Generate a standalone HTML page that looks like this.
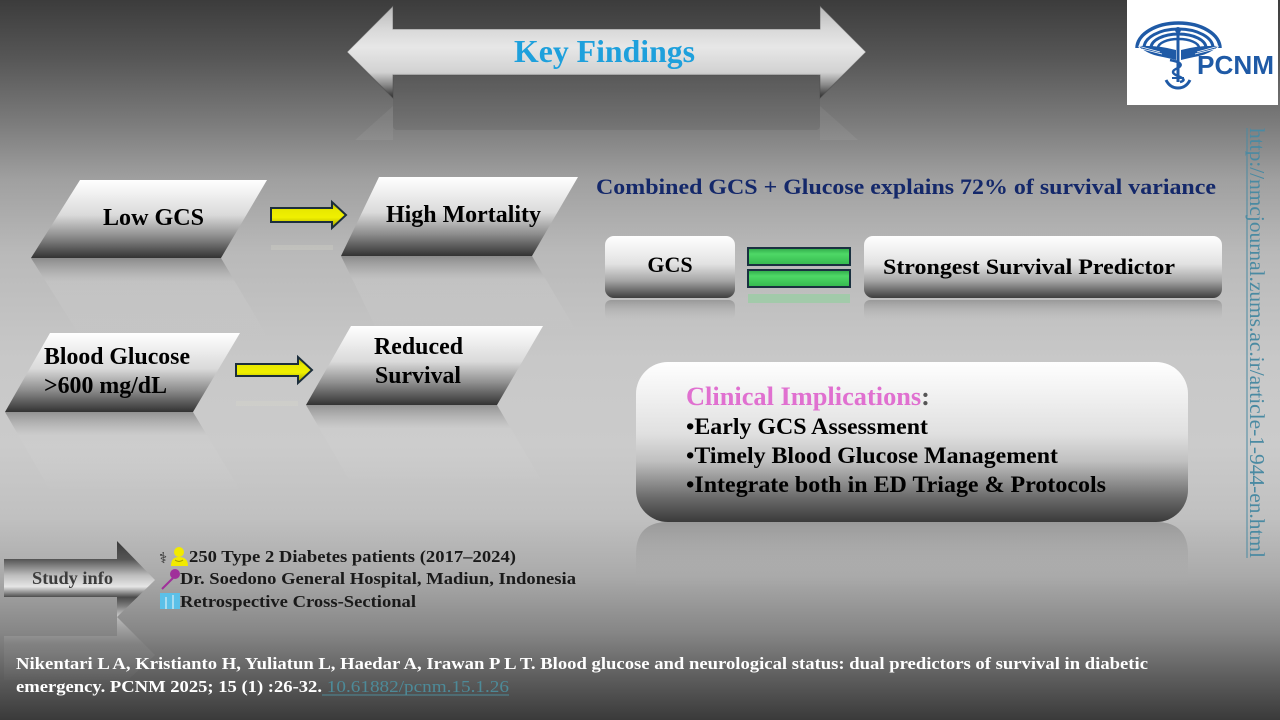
<!DOCTYPE html>
<html>
<head>
<meta charset="utf-8">
<style>
html,body{margin:0;padding:0;width:1280px;height:720px;overflow:hidden;background:#888;}
svg{display:block;}
text{font-family:"Liberation Serif","DejaVu Serif",serif;}
</style>
</head>
<body>
<svg width="1280" height="720" viewBox="0 0 1280 720" xmlns="http://www.w3.org/2000/svg">
<defs>
  <linearGradient id="bg" x1="0" y1="0" x2="0" y2="720" gradientUnits="userSpaceOnUse">
    <stop offset="0" stop-color="#3c3c3c"/>
    <stop offset="0.08" stop-color="#565656"/>
    <stop offset="0.17" stop-color="#7b7b7b"/>
    <stop offset="0.25" stop-color="#a0a0a0"/>
    <stop offset="0.35" stop-color="#b9b9b9"/>
    <stop offset="0.5" stop-color="#c8c8c8"/>
    <stop offset="0.62" stop-color="#cbcbcb"/>
    <stop offset="0.72" stop-color="#c0c0c0"/>
    <stop offset="0.8" stop-color="#aaaaaa"/>
    <stop offset="0.88" stop-color="#858585"/>
    <stop offset="0.94" stop-color="#5e5e5e"/>
    <stop offset="1" stop-color="#3a3a3a"/>
  </linearGradient>
  <linearGradient id="kf" x1="0" y1="6" x2="0" y2="98" gradientUnits="userSpaceOnUse">
    <stop offset="0" stop-color="#b8b8b8"/>
    <stop offset="0.25" stop-color="#d8d8d8"/>
    <stop offset="0.45" stop-color="#e7e7e7"/>
    <stop offset="0.72" stop-color="#d2d2d2"/>
    <stop offset="0.86" stop-color="#888"/>
    <stop offset="1" stop-color="#2a2a2a"/>
  </linearGradient>
  <linearGradient id="para" x1="0" y1="0" x2="0" y2="1">
    <stop offset="0" stop-color="#ffffff"/>
    <stop offset="0.45" stop-color="#dadada"/>
    <stop offset="0.72" stop-color="#8e8e8e"/>
    <stop offset="1" stop-color="#333333"/>
  </linearGradient>
  <linearGradient id="refl" x1="0" y1="0" x2="0" y2="1">
    <stop offset="0" stop-color="#505050" stop-opacity="0.45"/>
    <stop offset="0.3" stop-color="#cfcfcf" stop-opacity="0.3"/>
    <stop offset="1" stop-color="#e0e0e0" stop-opacity="0"/>
  </linearGradient>
  <linearGradient id="yel" x1="0" y1="0" x2="0" y2="1">
    <stop offset="0" stop-color="#a8a800"/>
    <stop offset="0.3" stop-color="#e8e800"/>
    <stop offset="0.6" stop-color="#f0f000"/>
    <stop offset="1" stop-color="#9a9a00"/>
  </linearGradient>
  <linearGradient id="grn" x1="0" y1="0" x2="0" y2="1">
    <stop offset="0" stop-color="#2ea848"/>
    <stop offset="0.35" stop-color="#4ed866"/>
    <stop offset="1" stop-color="#34b84e"/>
  </linearGradient>
  <linearGradient id="box" x1="0" y1="0" x2="0" y2="1">
    <stop offset="0" stop-color="#ffffff"/>
    <stop offset="0.45" stop-color="#e2e2e2"/>
    <stop offset="0.72" stop-color="#a6a6a6"/>
    <stop offset="1" stop-color="#3e3e3e"/>
  </linearGradient>
  <linearGradient id="cbox" x1="0" y1="0" x2="0" y2="1">
    <stop offset="0" stop-color="#ffffff"/>
    <stop offset="0.45" stop-color="#e0e0e0"/>
    <stop offset="0.62" stop-color="#c0c0c0"/>
    <stop offset="0.85" stop-color="#6a6a6a"/>
    <stop offset="1" stop-color="#3a3a3a"/>
  </linearGradient>
  <linearGradient id="boxrefl" x1="0" y1="0" x2="0" y2="1">
    <stop offset="0" stop-color="#7a7a7a" stop-opacity="0.55"/>
    <stop offset="1" stop-color="#b0b0b0" stop-opacity="0"/>
  </linearGradient>
  <linearGradient id="si" x1="0" y1="541" x2="0" y2="617" gradientUnits="userSpaceOnUse">
    <stop offset="0" stop-color="#3a3a3a"/>
    <stop offset="0.24" stop-color="#555555"/>
    <stop offset="0.45" stop-color="#bdbdbd"/>
    <stop offset="0.6" stop-color="#e6e6e6"/>
    <stop offset="0.74" stop-color="#4a4a4a"/>
    <stop offset="0.85" stop-color="#7a7a7a"/>
    <stop offset="1" stop-color="#d0d0d0"/>
  </linearGradient>
  <linearGradient id="sirefl" x1="0" y1="617" x2="0" y2="685" gradientUnits="userSpaceOnUse">
    <stop offset="0" stop-color="#d8d8d8" stop-opacity="0.6"/>
    <stop offset="0.4" stop-color="#8a8a8a" stop-opacity="0.4"/>
    <stop offset="1" stop-color="#8a8a8a" stop-opacity="0"/>
  </linearGradient>
</defs>

<!-- background -->
<rect x="0" y="0" width="1280" height="720" fill="url(#bg)"/>

<!-- Key findings arrow shadow/reflection -->
<rect x="393" y="75" width="427" height="55" rx="4" fill="#000" opacity="0.08"/>
<polygon points="355,140 393,106 393,140" fill="#fff" opacity="0.06"/>
<polygon points="858,140 820,106 820,140" fill="#fff" opacity="0.06"/>
<!-- Key findings arrow -->
<path d="M347,52 L393,6 L393,29 L820,29 L820,6 L866,52 L820,98 L820,75 L393,75 L393,98 Z" fill="url(#kf)" stroke="#4a4a4a" stroke-opacity="0.5" stroke-width="1"/>
<text x="514" y="62" font-size="32" font-weight="bold" fill="#1ea0dc" textLength="181" lengthAdjust="spacingAndGlyphs">Key Findings</text>

<!-- logo -->
<rect x="1127" y="0" width="151" height="105" fill="#ffffff"/>
<g fill="none" stroke="#1f5aa6">
  <path d="M1137,48 A41.5,25 0 0 1 1220,48" stroke-width="3.5"/>
  <path d="M1144,48 A34.5,19 0 0 1 1213,48" stroke-width="3"/>
  <path d="M1151,48 A27.5,14 0 0 1 1206,48" stroke-width="3"/>
  <path d="M1158,48 A20.5,9 0 0 1 1199,48" stroke-width="2.5"/>
</g>
<g fill="#1f5aa6">
  <path d="M1176,50 Q1158,45 1138,46 Q1148,54 1158,56 Q1168,58 1176,60 Z"/>
  <path d="M1181,50 Q1199,45 1219,46 Q1209,54 1199,56 Q1189,58 1181,60 Z"/>
  <rect x="1176.5" y="30" width="3" height="52"/>
  <circle cx="1178" cy="30" r="3"/>
</g>
<path d="M1170,60 Q1186,63 1178,68 Q1168,72 1178,76 Q1188,80 1180,82" fill="none" stroke="#1f5aa6" stroke-width="2.5"/>
<path d="M1166,80 Q1170,88 1178,88 Q1186,88 1190,80" fill="none" stroke="#1f5aa6" stroke-width="3"/>
<line x1="1172" y1="78" x2="1184" y2="78" stroke="#1f5aa6" stroke-width="2"/>
<path d="M1138,46 L1160,52 M1142,49 L1162,54 M1219,46 L1197,52 M1215,49 L1195,54" stroke="#ffffff" stroke-width="0.8"/>
<text x="1197" y="74" font-size="26" font-weight="bold" fill="#1f5aa6" textLength="77" lengthAdjust="spacingAndGlyphs" style="font-family:'Liberation Sans',sans-serif">PCNM</text>

<!-- vertical URL -->
<text transform="translate(1250,128) rotate(90)" x="0" y="0" font-size="21" fill="#4a8aa2" textLength="430" lengthAdjust="spacingAndGlyphs">http://nmcjournal.zums.ac.ir/article-1-944-en.html</text>
<line x1="1247" y1="128" x2="1247" y2="558" stroke="#4a8aa2" stroke-width="1"/>

<!-- parallelogram reflections -->
<polygon points="31,258 221,258 267,336 80,336" fill="url(#refl)"/>
<polygon points="341,256 532,256 578,334 379,334" fill="url(#refl)"/>
<polygon points="5,412 193,412 240,490 50,490" fill="url(#refl)"/>
<polygon points="306,405 497,405 543,483 351,483" fill="url(#refl)"/>

<!-- parallelograms -->
<polygon points="80,180 267,180 221,258 31,258" fill="url(#para)"/>
<polygon points="379,177 578,177 532,256 341,256" fill="url(#para)"/>
<polygon points="50,333 240,333 193,412 5,412" fill="url(#para)"/>
<polygon points="351,326 543,326 497,405 306,405" fill="url(#para)"/>

<g font-size="24" font-weight="bold" fill="#000">
  <text x="103" y="225" textLength="101" lengthAdjust="spacingAndGlyphs">Low GCS</text>
  <text x="386" y="222" textLength="155" lengthAdjust="spacingAndGlyphs">High Mortality</text>
  <text x="44" y="364" textLength="146" lengthAdjust="spacingAndGlyphs">Blood Glucose</text>
  <text x="44" y="393" textLength="123" lengthAdjust="spacingAndGlyphs">&gt;600 mg/dL</text>
  <text x="374" y="354" textLength="89" lengthAdjust="spacingAndGlyphs">Reduced</text>
  <text x="375" y="383" textLength="86" lengthAdjust="spacingAndGlyphs">Survival</text>
</g>

<!-- yellow arrows -->
<rect x="271" y="245" width="62" height="5" fill="#e8e8d0" opacity="0.2"/>
<path d="M271,208 H332 V202 L346,215 L332,228 V222 H271 Z" fill="url(#yel)" stroke="#1c2e3c" stroke-width="2" stroke-linejoin="miter"/>
<rect x="236" y="401" width="62" height="5" fill="#e8e8d0" opacity="0.2"/>
<path d="M236,364 H298 V357 L312,370 L298,383 V376 H236 Z" fill="url(#yel)" stroke="#1c2e3c" stroke-width="2" stroke-linejoin="miter"/>

<!-- combined text -->
<text x="596" y="194" font-size="22" font-weight="bold" fill="#14286a" textLength="620" lengthAdjust="spacingAndGlyphs">Combined GCS + Glucose explains 72% of survival variance</text>

<!-- GCS / Strongest boxes -->
<rect x="605" y="300" width="130" height="20" rx="6" fill="url(#boxrefl)"/>
<rect x="864" y="300" width="358" height="20" rx="6" fill="url(#boxrefl)"/>
<rect x="605" y="236" width="130" height="62" rx="9" fill="url(#box)"/>
<rect x="864" y="236" width="358" height="62" rx="9" fill="url(#box)"/>
<text x="670" y="272" font-size="22" font-weight="bold" fill="#000" text-anchor="middle">GCS</text>
<text x="883" y="274" font-size="22" font-weight="bold" fill="#000" textLength="292" lengthAdjust="spacingAndGlyphs">Strongest Survival Predictor</text>

<!-- equals bars -->
<rect x="748" y="294" width="102" height="9" fill="#7fd890" opacity="0.45"/>
<rect x="748" y="248" width="102" height="17" fill="url(#grn)" stroke="#1a3040" stroke-width="2"/>
<rect x="748" y="270" width="102" height="17" fill="url(#grn)" stroke="#1a3040" stroke-width="2"/>

<!-- clinical implications box -->
<path d="M636,586 L636,554 Q636,522 668,522 L1156,522 Q1188,522 1188,554 L1188,586 Z" fill="url(#boxrefl)"/>
<rect x="636" y="362" width="552" height="160" rx="32" fill="url(#cbox)"/>
<text x="686" y="405" font-size="26" font-weight="bold" textLength="244" lengthAdjust="spacingAndGlyphs"><tspan fill="#e070d0">Clinical Implications</tspan><tspan fill="#555555">:</tspan></text>
<g font-size="23" font-weight="bold" fill="#000">
  <text x="686" y="434" textLength="242" lengthAdjust="spacingAndGlyphs">•Early GCS Assessment</text>
  <text x="686" y="463" textLength="372" lengthAdjust="spacingAndGlyphs">•Timely Blood Glucose Management</text>
  <text x="686" y="492" textLength="420" lengthAdjust="spacingAndGlyphs">•Integrate both in ED Triage &amp; Protocols</text>
</g>

<!-- study info arrow -->
<path d="M4,636 H117 V617 L155,655 L117,690 V680 H4 Z" fill="url(#sirefl)"/>
<path d="M4,559 H117 V541 L155,580 L117,617 V597 H4 Z" fill="url(#si)"/>
<text x="32" y="584" font-size="18" font-weight="bold" fill="#3c3c3c" textLength="81" lengthAdjust="spacingAndGlyphs">Study info</text>

<!-- study icons -->
<text x="159" y="563" font-size="15" fill="#222" style="font-family:'DejaVu Sans',sans-serif">⚕</text>
<circle cx="179" cy="552" r="5" fill="#f2ea00"/>
<path d="M171,566 Q171,557 179,557 Q188,557 188,566 Z" fill="#f2ea00"/>
<path d="M175,560 Q179,563 183,560" fill="none" stroke="#a09a00" stroke-width="1"/>
<circle cx="175" cy="574" r="5" fill="#a0309a"/>
<line x1="173" y1="578" x2="162" y2="589" stroke="#a0309a" stroke-width="2"/>
<rect x="160" y="593" width="20" height="16" fill="#5bc0e8"/>
<rect x="165" y="597" width="2" height="12" fill="#a8dcf0"/>
<rect x="172" y="595" width="2" height="14" fill="#a8dcf0"/>

<g font-size="17" font-weight="bold" fill="#1a1a1a">
  <text x="189" y="562" textLength="327" lengthAdjust="spacingAndGlyphs">250 Type 2 Diabetes patients (2017–2024)</text>
  <text x="180" y="584" textLength="396" lengthAdjust="spacingAndGlyphs">Dr. Soedono General Hospital, Madiun, Indonesia</text>
  <text x="180" y="607" textLength="236" lengthAdjust="spacingAndGlyphs">Retrospective Cross-Sectional</text>
</g>

<!-- citation -->
<g font-size="17" font-weight="bold" fill="#ffffff">
  <text x="16" y="669" textLength="1132" lengthAdjust="spacingAndGlyphs">Nikentari L A, Kristianto H, Yuliatun L, Haedar A, Irawan P L T. Blood glucose and neurological status: dual predictors of survival in diabetic</text>
  <text x="16" y="692" textLength="306" lengthAdjust="spacingAndGlyphs">emergency. PCNM 2025; 15 (1) :26-32.</text>
</g>
<text x="322" y="692" font-size="17" fill="#4d8a98" textLength="187" lengthAdjust="spacingAndGlyphs" xml:space="preserve"> 10.61882/pcnm.15.1.26</text>
<line x1="322" y1="695" x2="509" y2="695" stroke="#4d8a98" stroke-width="1"/>
</svg>
</body>
</html>
